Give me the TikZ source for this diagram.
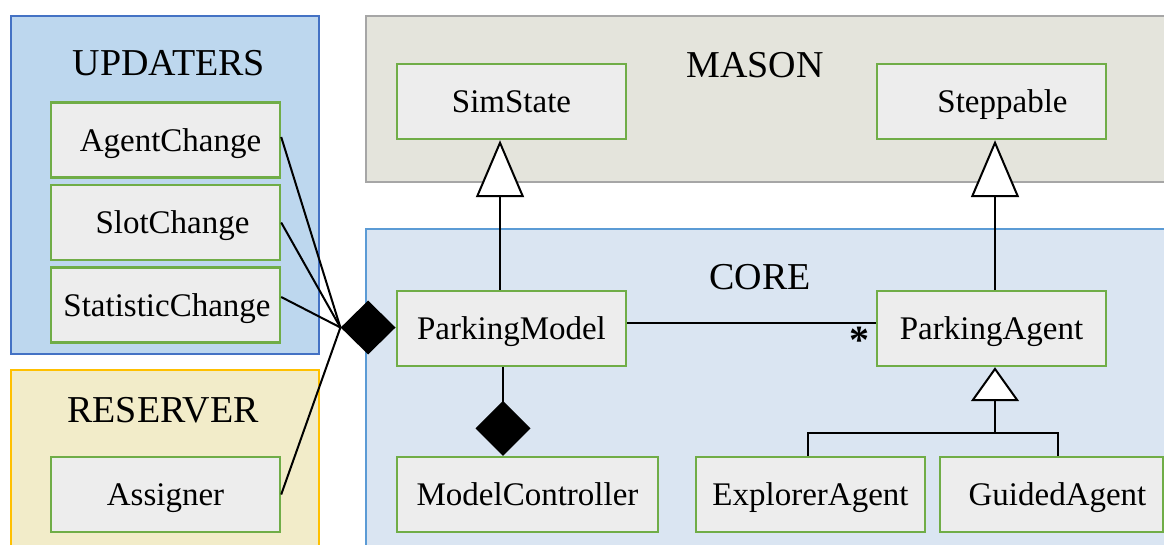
\documentclass[tikz,border=0pt]{standalone}
\usepackage{fontspec}
\setmainfont{Liberation Serif}
\usetikzlibrary{arrows.meta,shapes.geometric}
\definecolor{updFill}{RGB}{189,215,238}
\definecolor{updLine}{RGB}{68,114,196}
\definecolor{resFill}{RGB}{242,236,201}
\definecolor{resLine}{RGB}{255,192,0}
\definecolor{masFill}{RGB}{228,228,220}
\definecolor{masLine}{RGB}{166,166,166}
\definecolor{corFill}{RGB}{218,229,242}
\definecolor{corLine}{RGB}{91,155,213}
\definecolor{clsFill}{RGB}{237,237,237}
\definecolor{clsLine}{RGB}{112,173,71}
\begin{document}
\begin{tikzpicture}[x=1pt,y=-1pt,
  grp/.style={line width=2pt},
  cls/.style={draw=clsLine, fill=clsFill, line width=2.4pt, rectangle,
    minimum width=229pt, minimum height=75pt, inner sep=0pt,
    text height=22pt, text depth=0pt, font=\fontsize{33}{36}\selectfont},
  grptitle/.style={anchor=base, inner sep=0pt, font=\fontsize{38}{42}\selectfont},
  conn/.style={line width=2pt, draw=black},
  inherit/.style={conn, -{Triangle[fill=white, length=#1, width=48pt]}},
  inherit/.default=57pt,
  compose/.style={conn, {Diamond[length=55pt, width=55pt]}-}
]
\useasboundingbox (0,0) rectangle (1164,544);
\clip (0,0) rectangle (1164,544);
% groups
\path[grp, draw=updLine, fill=updFill] (11,16) rectangle (319,354);
\path[grp, draw=resLine, fill=resFill] (11,370) rectangle (319,560);
\path[grp, draw=masLine, fill=masFill] (366,16) rectangle (1175,182);
\path[grp, draw=corLine, fill=corFill] (366,229) rectangle (1175,560);
\node[grptitle] (tupd) at (169,75) {UPDATERS};
\node[grptitle] (tres) at (163,422) {RESERVER};
\node[grptitle] (tmas) at (755,77) {MASON};
\node[grptitle] (tcor) at (760,289) {CORE};
% classes
\node[cls] (ac) at (165.5,140) {\hspace*{10pt}AgentChange};
\node[cls] (sc) at (165.5,222.5) {\hspace*{14pt}SlotChange};
\node[cls] (stc) at (165.5,305) {\hspace*{3pt}StatisticChange};
\node[cls] (as) at (165.5,494.5) {Assigner};
\node[cls] (ss) at (511.5,101.5) {SimState};
\node[cls] (st) at (991.5,101.5) {\hspace*{22pt}Steppable};
\node[cls] (pm) at (511.5,328.5) {ParkingModel};
\node[cls] (pa) at (991.5,328.5) {ParkingAgent};
\node[cls, minimum width=261pt] (mc) at (527.5,494.5) {ModelController};
\node[cls] (ea) at (810.5,494.5) {ExplorerAgent};
\node[cls, minimum width=223pt] (ga) at (1051.5,494.5) {\hspace*{12pt}GuidedAgent};
% aggregation diamond at ParkingModel
\node[diamond, fill=black, draw=none, inner sep=0pt, minimum width=55pt,
  minimum height=54pt, anchor=east] (agg) at ([yshift=1pt]pm.west) {};
\draw[conn] ([yshift=3pt]ac.east) -- (agg.west);
\draw[conn] (sc.east) -- (agg.west);
\draw[conn] ([yshift=8pt]stc.east) -- (agg.west);
\draw[conn] (as.east) -- (agg.west);
% inheritance to MASON
\draw[inherit] ([xshift=-11.5pt]pm.north) -- ([xshift=-11.5pt]pm.north |- ss.south);
\draw[inherit] ([xshift=3.5pt]pa.north) -- ([xshift=3.5pt]pa.north |- st.south);
% association
\draw[conn] ([yshift=6pt]pm.east) -- ([yshift=6pt]pa.west);
\node[anchor=base, inner sep=0pt, font=\bfseries\fontsize{40}{42}\selectfont] (star) at (859,353) {*};
% composition
\draw[compose] ([xshift=-24.5pt]mc.north) -- ([xshift=-24.5pt]mc.north |- pm.south);
% generalisation of agents
\coordinate (j) at (995,433);
\draw[conn] ([xshift=-2.5pt]ea.north) |- (j);
\draw[conn] ([xshift=6.5pt]ga.north) |- (j);
\draw[inherit=34pt] (j) -- (j |- pa.south);
\end{tikzpicture}
\end{document}
